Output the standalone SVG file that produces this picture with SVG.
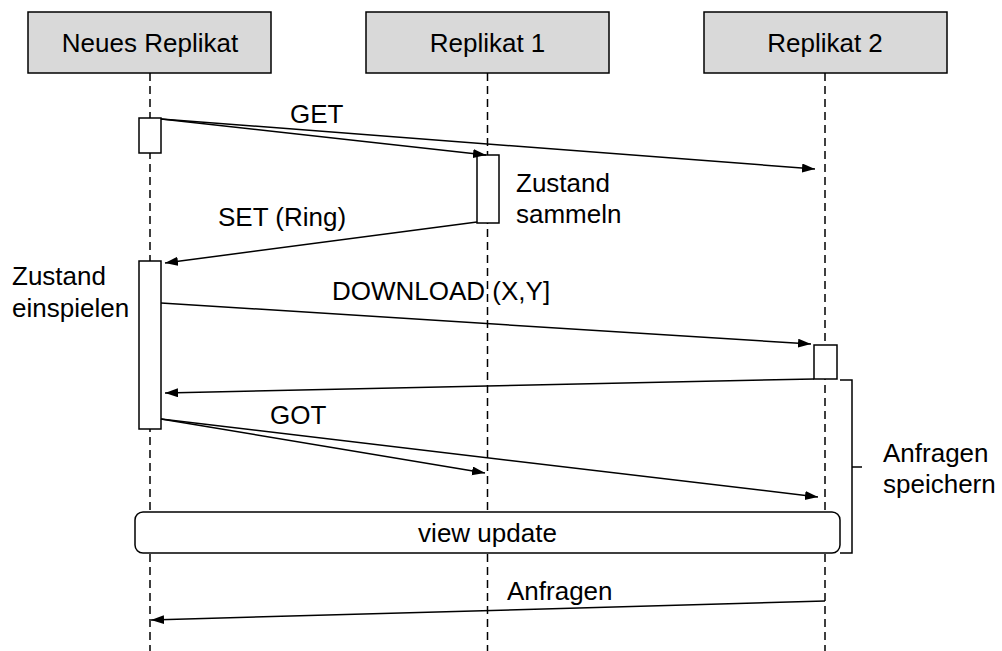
<svg xmlns="http://www.w3.org/2000/svg" width="1002" height="651" viewBox="0 0 1002 651">
<defs>
<marker id="ah" markerUnits="userSpaceOnUse" markerWidth="14" markerHeight="10" refX="13" refY="4.5" orient="auto">
<path d="M0,0 L13,4.5 L0,9 z" fill="#000"/>
</marker>
<style>
text{font-family:"Liberation Sans",Arial,sans-serif;font-size:26px;fill:#000}
.hdr{fill:#d9d9d9;stroke:#000;stroke-width:1.5}
.life{stroke:#000;stroke-width:1.5;stroke-dasharray:8 5;fill:none}
.act{fill:#fff;stroke:#000;stroke-width:1.5}
.msg{stroke:#000;stroke-width:1.5;fill:none;marker-end:url(#ah)}
.ln{stroke:#000;stroke-width:1.5;fill:none}
</style>
</defs>
<rect width="1002" height="651" fill="#fff"/>
<g id="lifelines">
<line class="life" x1="150" y1="73" x2="150" y2="651"/>
<line class="life" x1="487.5" y1="73" x2="487.5" y2="651"/>
<line class="life" x1="825" y1="73" x2="825" y2="651"/>
</g>
<g id="neues-replikat">
<rect class="hdr" x="28" y="12" width="243" height="61"/>
<text x="150" y="52" text-anchor="middle">Neues Replikat</text>
</g>
<g id="replikat-1">
<rect class="hdr" x="366" y="12" width="243" height="61"/>
<text x="487.5" y="52" text-anchor="middle">Replikat 1</text>
</g>
<g id="replikat-2">
<rect class="hdr" x="704" y="12" width="243" height="61"/>
<text x="825" y="52" text-anchor="middle">Replikat 2</text>
</g>
<g id="activations">
<rect id="act-n1" class="act" x="139" y="118" width="22" height="35"/>
<rect id="act-r1" class="act" x="477" y="155" width="22" height="68"/>
<rect id="act-n2" class="act" x="139" y="261" width="22" height="168"/>
<rect id="act-r2" class="act" x="814" y="345" width="23" height="34"/>
</g>
<g id="view-update">
<rect class="act" x="135" y="512" width="705" height="41" rx="8"/>
<text x="487.5" y="542" text-anchor="middle">view update</text>
</g>
<g id="connectors">
<line class="msg" x1="161" y1="119" x2="486" y2="155"/>
<line class="msg" x1="161" y1="119" x2="815" y2="169"/>
<line class="msg" x1="477" y1="222" x2="165" y2="263"/>
<line class="msg" x1="161" y1="303" x2="811" y2="344"/>
<line class="msg" x1="814" y1="379" x2="165" y2="393"/>
<line class="msg" x1="161" y1="419" x2="485" y2="473"/>
<line class="msg" x1="161" y1="419" x2="818" y2="497"/>
<line class="msg" x1="825" y1="601" x2="151" y2="620"/>
<path class="ln" d="M840,380 L852,380 L852,553 L840,553 M852,467 L862,467"/>
</g>
<g id="labels">
<text x="290" y="123">GET</text>
<text x="516" y="192">Zustand</text>
<text x="516" y="223">sammeln</text>
<text x="218" y="226">SET (Ring)</text>
<text x="12" y="285">Zustand</text>
<text x="12" y="317">einspielen</text>
<text x="332" y="300">DOWNLOAD (X,Y]</text>
<text x="270" y="424">GOT</text>
<text x="883" y="462">Anfragen</text>
<text x="883" y="493">speichern</text>
<text x="507" y="600">Anfragen</text>
</g>
</svg>
